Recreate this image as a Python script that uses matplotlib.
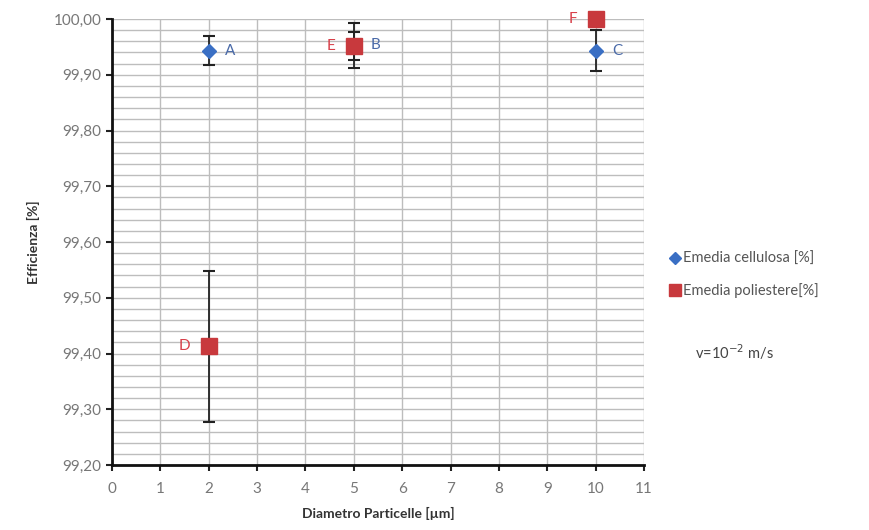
import matplotlib
matplotlib.use("Agg")
import matplotlib.pyplot as plt
from matplotlib.lines import Line2D
import numpy as np

plt.rcParams['font.family'] = ['Lato', 'DejaVu Sans']

# data
diam_cell = [2, 5, 10]
eff_cell = [99.943, 99.953, 99.943]
err_cell = [0.026, 0.040, 0.037]
lab_cell = ["A", "B", "C"]

diam_poli = [2, 5, 10]
eff_poli = [99.413, 99.952, 100.00]
err_poli = [0.135, 0.025, 0.0]
lab_poli = ["D", "E", "F"]

yticks = [99.20, 99.30, 99.40, 99.50, 99.60, 99.70, 99.80, 99.90, 100.00]
xticks = list(range(0, 12))

fig = plt.figure(figsize=(8.7, 5.3), dpi=100)
ax = fig.add_axes([112/870, 1-465/530, (644-112)/870, (465-19)/530])

ax.set_xlim(0, 11)
ax.set_ylim(99.2, 100.0)
ax.set_xticks(xticks)
ax.set_yticks(yticks)
ax.set_yticks(np.arange(99.2, 100.001, 0.02), minor=True)
ax.set_yticklabels([("%.2f" % v).replace(".", ",") for v in yticks])
ax.grid(True, which='both', axis='y', color='#bdbdbd', lw=1.0)
ax.grid(True, which='major', axis='x', color='#bdbdbd', lw=1.0)
ax.set_axisbelow(True)
ax.tick_params(axis='both', which='major', colors='#222222', labelcolor='#777777',
               labelsize=11, length=4, width=1.5, direction='out')
ax.tick_params(axis='both', which='minor', length=0)
ax.tick_params(axis='x', pad=8)
for s in ['top', 'right']:
    ax.spines[s].set_visible(False)
for s in ['left', 'bottom']:
    ax.spines[s].set_linewidth(2)
    ax.spines[s].set_color('#111111')

ax.errorbar(diam_cell, eff_cell, yerr=err_cell, fmt='D', color='#3a6fc4', ms=7,
            ecolor='#222222', elinewidth=1.3, capsize=4, capthick=1.5,
            zorder=3, clip_on=False)
ax.errorbar(diam_poli, eff_poli, yerr=err_poli, fmt='s', color='#c8393d', ms=11,
            ecolor='#222222', elinewidth=1.3, capsize=4, capthick=1.5,
            zorder=4, clip_on=False)

for x, y, t in zip(diam_cell, eff_cell, lab_cell):
    ax.annotate(t, (x, y), xytext=(12, 0), textcoords='offset points',
                color='#4a6aa8', fontsize=11, va='center', ha='left')
for x, y, t in zip(diam_poli, eff_poli, lab_poli):
    ax.annotate(t, (x, y), xytext=(-13, 0), textcoords='offset points',
                color='#d8404a', fontsize=11, va='center', ha='right')

ax.set_xlabel('Diametro Particelle [µm]', fontsize=10, fontweight='bold',
              color='#333333', labelpad=8)
ax.set_ylabel('Efficienza [%]', fontsize=10, fontweight='bold', color='#333333',
              labelpad=10)

handles = [Line2D([], [], ls='none', marker='D', color='#3a6fc4', ms=6),
           Line2D([], [], ls='none', marker='s', color='#c8393d', ms=9)]
leg = fig.legend(handles, ['Emedia cellulosa [%]', 'Emedia poliestere[%]'],
                 loc='upper left', bbox_to_anchor=(668/870, 1-252/530),
                 frameon=False, fontsize=10.5, handletextpad=0.1,
                 handlelength=0.9, labelspacing=1.2, borderaxespad=0,
                 borderpad=0)
for t in leg.get_texts():
    t.set_color('#555555')

fig.text(695/870, 1-352/530, 'v=10$^{-2}$ m/s', fontsize=10.5, color='#444444',
         va='center', ha='left')

fig.savefig('out.png', dpi=100)
